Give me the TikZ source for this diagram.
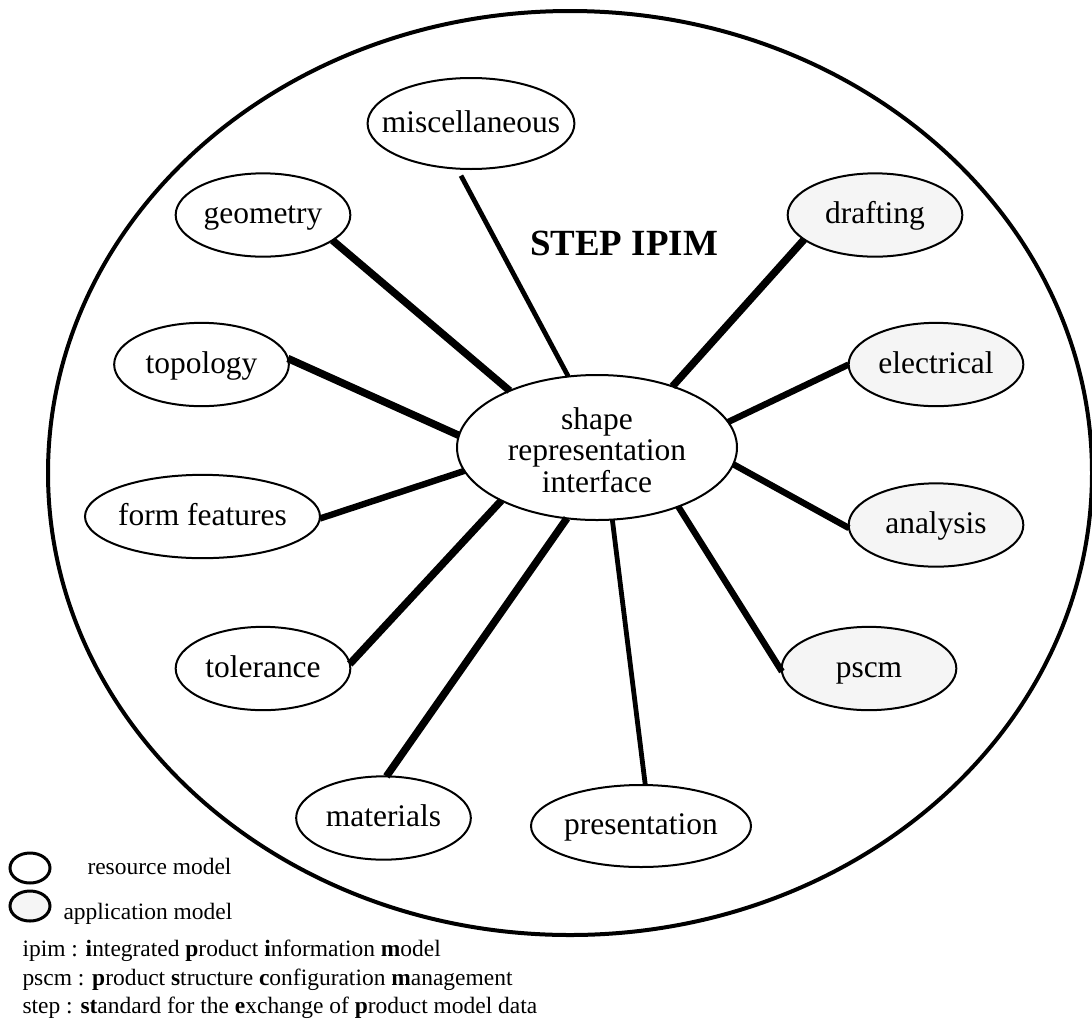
\documentclass[tikz,border=0pt]{standalone}
\usepackage{fontspec}
\setmainfont{Liberation Serif}
\usepackage{tikz}
\usetikzlibrary{shapes.geometric}
\tikzset{every picture/.style={line width=0.75pt}}
\tikzset{
  model/.style={ellipse, draw, line width=1.5pt, inner sep=0pt, outer sep=0pt,
    minimum width=131pt, minimum height=62.5pt, text height=13pt, text depth=0pt,
    font=\fontsize{23.6}{23.6}\selectfont},
  appmodel/.style={model, fill={rgb, 255:red, 245; green, 245; blue, 245}},
  legendmark/.style={ellipse, draw, line width=2.25pt, inner sep=0pt,
    minimum width=30pt, minimum height=22.5pt},
  legendtext/.style={anchor=base west, inner sep=0pt, font=\fontsize{17.6}{17.6}\selectfont},
  link/.style={line width=4.8pt},
  heavylink/.style={line width=5.6pt},
  thinlink/.style={line width=3.6pt}
}

\begin{document}
\begin{tikzpicture}[x=0.75pt,y=0.75pt,yscale=-1,xscale=1]
\useasboundingbox (0,0) rectangle (1092,1018);

%Shape: Ellipse
\draw [line width=3pt] (570,473) ellipse [x radius=522, y radius=462];

%Shape: Ellipse
\node [model, minimum width=210pt, minimum height=108.75pt, align=center, text height=66.75pt, text depth=0pt] (shape) at (597,447.5) {shape\\representation\\interface};
%Shape: Ellipse
\node [model, minimum width=154.5pt, minimum height=68.25pt, inner xsep=-12pt] (misc) at (471,123.5) {miscellaneous};
%Shape: Ellipse
\node [model] (geometry) at (263,215) {geometry};
%Shape: Ellipse
\node [model] (topology) at (201.5,364.5) {topology};
%Shape: Ellipse
\node [model, minimum width=176.25pt, inner xsep=-2pt] (formfeat) at (202.5,516.5) {form features};
%Shape: Ellipse
\node [model] (tolerance) at (263,668.5) {tolerance};
%Shape: Ellipse
\node [model] (materials) at (383.5,818) {materials};
%Shape: Ellipse
\node [model, minimum width=165pt, minimum height=61.5pt] (presentation) at (641,826) {presentation};
%Shape: Ellipse
\node [appmodel] (drafting) at (875,215) {drafting};
%Shape: Ellipse
\node [appmodel] (electrical) at (936,364.5) {electrical};
%Shape: Ellipse
\node [appmodel] (analysis) at (936,525) {analysis};
%Shape: Ellipse
\node [appmodel] (pscm) at (869,668.5) {pscm};

%Straight Lines
\draw [heavylink] (geometry.-20) -- (shape.147);
%Straight Lines
\draw [thinlink, shorten <=6pt] (misc.-107.6) -- (shape.112.5);
%Straight Lines
\draw [heavylink] (drafting.199.8) -- (shape.39.4);
%Straight Lines
\draw [heavylink] (topology.4.4) -- (shape.175.7);
%Straight Lines
\draw [link] (electrical.180) -- (shape.11.9);
%Straight Lines
\draw [link] (analysis.182) -- (shape.-7.3);
%Straight Lines
\draw [link] (formfeat.-1.7) -- (shape.190.8);
%Straight Lines
\draw [heavylink] (tolerance.3.7) -- (shape.209.8);
%Straight Lines
\draw [heavylink] (materials.86.7) -- (shape.247.6);
%Straight Lines
\draw [thinlink] (presentation.84.6) -- (shape.282.8);
%Straight Lines
\draw [link] (pscm.182.2) -- (shape.324.6);

% Text Node
\node [font=\fontsize{27.7}{27.7}\selectfont\bfseries, anchor=base] (title) at (624,255) {STEP IPIM};

%Shape: Ellipse
\node [legendmark] (legres) at (30,868) {};
%Shape: Ellipse
\node [legendmark, fill={rgb, 255:red, 245; green, 245; blue, 245}] (legapp) at (30,906) {};
% Text Node
\node [legendtext] (restext) at (87,874) {resource model};
% Text Node
\node [legendtext] (apptext) at (63,919) {application model};
% Text Node
\node [legendtext] (ipim) at (22,956) {ipim : \textbf{i}ntegrated \textbf{p}roduct \textbf{i}nformation \textbf{m}odel};
% Text Node
\node [legendtext] (pscmtext) at (22,985) {pscm : \textbf{p}roduct \textbf{s}tructure \textbf{c}onfiguration \textbf{m}anagement};
% Text Node
\node [legendtext] (steptext) at (22,1013) {step : \textbf{st}andard for the \textbf{e}xchange of \textbf{p}roduct model data};

\end{tikzpicture}
\end{document}
